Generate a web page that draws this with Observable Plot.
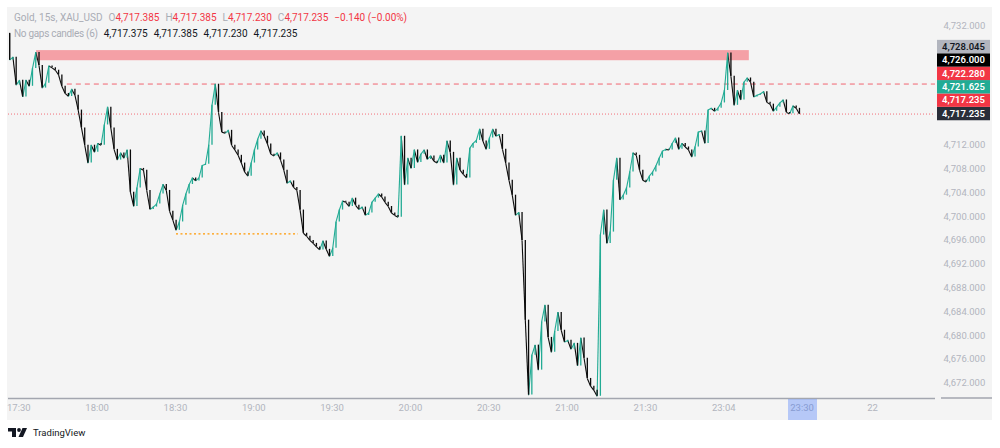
<!DOCTYPE html>
<html>
<head>
<meta charset="utf-8">
<script src="https://cdn.jsdelivr.net/npm/d3@7"></script>
<script src="https://cdn.jsdelivr.net/npm/@observablehq/plot@0.6"></script>
<style>
  html, body { margin: 0; padding: 0; background: #ffffff; }
  #wrap { position: relative; width: 1000px; height: 448px; font-family: Roboto, "Liberation Sans", sans-serif; overflow: hidden; }
  #panel { position: absolute; left: 7px; top: 7px; width: 985px; height: 413px; background: #f4f4f4; }
  #chart { position: absolute; left: 0; top: 0; }
  #legend { position: absolute; left: 14px; top: 10px; font-size: 10px; line-height: 16px; color: #a9acb4; white-space: nowrap; }
  #legend span { display: inline-block; }
  #legend .g { margin-left: 6px; }
  #legend .r { color: #f23645; }
  #legend .d { color: #131722; }
  #footer { position: absolute; left: 8px; top: 427px; font-size: 9.5px; color: #131722; display: flex; align-items: center; gap: 3px; }
</style>
</head>
<body>
<div id="wrap">
  <div id="panel"></div>
  <div id="chart"></div>
  <div id="legend"></div>
  <div id="footer"></div>
</div>
<script>
// ---------- data ----------
const startMinute = -3.5;      // minutes after 17:30 of the first candle
const stepMinutes = 1.25;      // candle spacing on the time axis
const firstOpen = 4730.8;
const closes = [
4726.3,4726.8,4722.1,4722.9,4720.1,4722.9,4721.9,4724.9,4727.6,4725.4,
4721.6,4722.4,4725.3,4725.0,4724.6,4723.8,4721.9,4720.7,4720.2,4721.4,
4720.4,4717.9,4714.9,4712.0,4709.0,4712.0,4710.8,4712.3,4712.0,4715.4,
4718.4,4714.9,4711.3,4709.5,4710.7,4709.8,4711.2,4704.1,4701.7,4704.8,
4708.1,4707.8,4704.4,4701.2,4701.6,4702.1,4703.8,4705.4,4704.4,4700.9,
4699.4,4697.7,4699.1,4701.9,4703.8,4705.4,4706.5,4706.0,4706.5,4708.6,
4708.8,4712.0,4718.7,4722.25,4717.5,4714.2,4714.0,4714.5,4712.0,4711.2,
4710.3,4709.0,4707.5,4706.8,4709.0,4711.2,4713.0,4714.4,4713.5,4712.2,
4710.5,4710.2,4710.7,4709.5,4707.8,4705.6,4706.0,4704.9,4704.4,4701.1,
4697.2,4696.7,4696.0,4695.5,4694.9,4694.4,4695.9,4694.5,4693.3,4694.7,
4699.1,4701.1,4702.6,4702.4,4701.7,4703.1,4701.9,4701.2,4701.6,4700.2,
4700.6,4702.4,4703.1,4703.8,4703.3,4702.4,4701.7,4700.6,4700.2,4699.9,
4713.5,4705.3,4709.8,4708.1,4711.2,4709.1,4710.5,4711.2,4709.6,4710.2,
4709.3,4709.0,4710.3,4709.0,4712.7,4710.8,4705.3,4709.8,4707.8,4707.1,
4706.5,4711.5,4712.3,4712.8,4714.7,4712.7,4711.3,4713.2,4714.7,4713.5,
4713.8,4711.3,4709.0,4706.1,4703.6,4700.2,4700.7,4696.0,4682.6,4670.0,
4676.7,4678.4,4674.2,4682.3,4685.1,4679.7,4677.2,4680.7,4683.9,4680.9,
4678.9,4679.2,4677.7,4678.7,4674.9,4679.6,4676.2,4672.8,4671.5,4670.8,
4669.8,4696.9,4701.1,4695.5,4697.4,4706.1,4709.8,4702.8,4703.6,4704.8,
4707.5,4710.7,4710.3,4707.8,4706.1,4705.8,4706.8,4707.5,4708.5,4709.8,
4711.0,4711.3,4711.2,4712.3,4713.2,4711.3,4712.3,4711.7,4711.2,4710.0,
4711.7,4714.2,4714.4,4712.3,4717.9,4718.2,4717.7,4718.2,4719.1,4721.2,
4727.5,4723.6,4718.7,4721.2,4719.6,4722.6,4723.3,4722.6,4720.1,4720.4,
4720.6,4721.0,4719.2,4718.9,4717.7,4718.4,4719.1,4719.6,4717.5,4717.3,
4718.6,4718.2,4717.235
];

const tickMinutes = [0, 30, 60, 90, 120, 150, 180, 210, 240, 270, 300, 327];
const tickLabels = ["17:30","18:00","18:30","19:00","19:30","20:00","20:30","21:00","21:30","23:04","23:30","22"];
const yTicks = [4672,4676,4680,4684,4688,4692,4696,4700,4704,4708,4712,4716,4720,4724,4728,4732];

const zonePrices = [4726.2, 4727.9];
const zoneMinutes = [6.8, 279.8];
const dashedLevel = 4722.28;
const dashedFrom = 18.6;
const lastLevel = 4717.235;
const lowLevel = 4697.1;
const lowMinutes = [60.4, 107.1];
const markerMinutes = [294.8, 305.9];

const tagPrices = [4717.235, 4717.235, 4721.625, 4722.280, 4726.000, 4728.045];
const tagFills  = ["#2a2e39", "#f23645", "#22ab94", "#f23645", "#000000", "#b2b5be"];
const tagInks   = ["#ffffff", "#ffffff", "#ffffff", "#ffffff", "#ffffff", "#131722"];

const legendName = "Gold, 15s, XAU_USD";
const legendKeys = ["O", "H", "L", "C"];
const legendOHLC = ["4,717.385", "4,717.385", "4,717.230", "4,717.235"];
const legendChange = "\u22120.140 (\u22120.00%)";
const legendInd = "No gaps candles (6)";
const legendIndVals = ["4,717.375", "4,717.385", "4,717.230", "4,717.235"];

// ---------- build ----------
const candles = closes.map((c, i) => {
  const o = i === 0 ? firstOpen : closes[i - 1];
  const t = startMinute + stepMinutes * i;
  return { t, tPrev: i === 0 ? t : t - stepMinutes, open: o, close: c, up: c >= o };
});
const labelOf = new Map(tickMinutes.map((m, i) => [m, tickLabels[i]]));
const UP = "#22ab94", DOWN = "#0b0b0b";
const yDomain = [4669.43, 4734.64];
const xDomain = [-3.94, 351.1];

// y scale (same as the plot's) used only to drop axis labels hidden under the price tags
const tagH = 13.4;
const yPre = Plot.scale({ y: { domain: yDomain, range: [424 - 26, 10] } });
let prevY = Infinity;
const tagY = tagPrices.map(p => { const y = Math.min(yPre.apply(p), prevY - tagH); prevY = y; return y; });
const visibleTicks = yTicks.filter(v => {
  const py = yPre.apply(v);
  return !tagY.some(ty => Math.abs(py - ty) < tagH / 2 + 5);
});

const plot = Plot.plot({
  width: 1000,
  height: 424,
  marginLeft: 8,
  marginRight: 65,
  marginTop: 10,
  marginBottom: 26,
  style: { background: "transparent", fontFamily: "Roboto, 'Liberation Sans', sans-serif", fontSize: "9.5px", overflow: "visible" },
  x: { domain: xDomain, label: null },
  y: { domain: yDomain, label: null },
  marks: [
    Plot.rect([0], { x1: zoneMinutes[0], x2: zoneMinutes[1], y1: zonePrices[0], y2: zonePrices[1], fill: "#f4a0a6" }),
    Plot.ruleY([dashedLevel], { x1: dashedFrom, x2: xDomain[1], stroke: "#f23645", strokeOpacity: 0.75, strokeDasharray: "5,4", strokeWidth: 1 }),
    Plot.ruleY([lastLevel], { stroke: "#f23645", strokeOpacity: 0.7, strokeDasharray: "1,2", strokeWidth: 1 }),
    Plot.ruleY([lowLevel], { x1: lowMinutes[0], x2: lowMinutes[1], stroke: "#ff9800", strokeDasharray: "2,2.5", strokeWidth: 1.3 }),
    Plot.link(candles, { x1: "tPrev", y1: "open", x2: "t", y2: "close", stroke: d => d.up ? UP : DOWN, strokeWidth: 1.1 }),
    Plot.ruleX(candles, { x: "t", y1: "open", y2: "close", stroke: d => d.up ? UP : DOWN, strokeWidth: 1.3 }),
    Plot.ruleY([yDomain[0]], { stroke: "#a3a6af", strokeWidth: 1.5 }),
    Plot.axisX({ ticks: tickMinutes, tickFormat: d => labelOf.get(d), tickSize: 0, tickPadding: 6, fill: "#b2b5be", fontSize: 9.5 }),
    Plot.axisY({ anchor: "right", ticks: visibleTicks, tickFormat: d3.format(",.3f"), tickSize: 0, tickPadding: 8, fill: "#b2b5be", fontSize: 9.5 })
  ]
});
document.getElementById("chart").appendChild(plot);

// ---------- overlays positioned with Plot's scales ----------
const xs = plot.scale("x"), ys = plot.scale("y");
const svg = d3.select(plot);
const xRight = xs.apply(xDomain[1]);
const yBottom = ys.apply(yDomain[0]);

// bottom line continuation under the price axis
svg.append("line").attr("x1", xRight + 6).attr("x2", 992)
  .attr("y1", yBottom).attr("y2", yBottom)
  .attr("stroke", "#a3a6af").attr("stroke-width", 1.5);

// time marker highlight
svg.append("rect")
  .attr("x", xs.apply(markerMinutes[0])).attr("width", xs.apply(markerMinutes[1]) - xs.apply(markerMinutes[0]))
  .attr("y", yBottom + 1).attr("height", 21)
  .attr("fill", "#2962ff").attr("fill-opacity", 0.3);

// stacked price tags on the right axis
const g = svg.append("g");
tagPrices.forEach((p, i) => {
  g.append("rect").attr("x", xRight + 2).attr("width", 53).attr("y", tagY[i] - tagH / 2).attr("height", tagH)
    .attr("fill", tagFills[i]);
  g.append("text").attr("x", xRight + 28.5).attr("y", tagY[i]).attr("dy", "0.35em")
    .attr("text-anchor", "middle").attr("fill", tagInks[i])
    .attr("font-size", 9.5).attr("font-weight", 600)
    .text(d3.format(",.3f")(p));
});

// ---------- legend ----------
const lg = document.getElementById("legend");
lg.innerHTML =
  `<div><span>${legendName}</span>` +
  legendKeys.map((k, i) => `<span class="g">${k}<span class="r">${legendOHLC[i]}</span></span>`).join("") +
  `<span class="g r">${legendChange}</span></div>` +
  `<div><span style="letter-spacing:-0.3px">${legendInd}</span>` +
  legendIndVals.map(v => `<span class="g d">${v}</span>`).join("") + `</div>`;

// ---------- footer ----------
document.getElementById("footer").innerHTML =
  `<svg width="22" height="10" viewBox="0 0 22 10"><path d="M0 0H8V9H4V3.5H0Z" fill="#131722"/><circle cx="11" cy="2" r="1.9" fill="#131722"/><path d="M14.5 0H19L15 9H10.5Z" fill="#131722"/></svg><span>TradingView</span>`;
</script>
</body>
</html>
